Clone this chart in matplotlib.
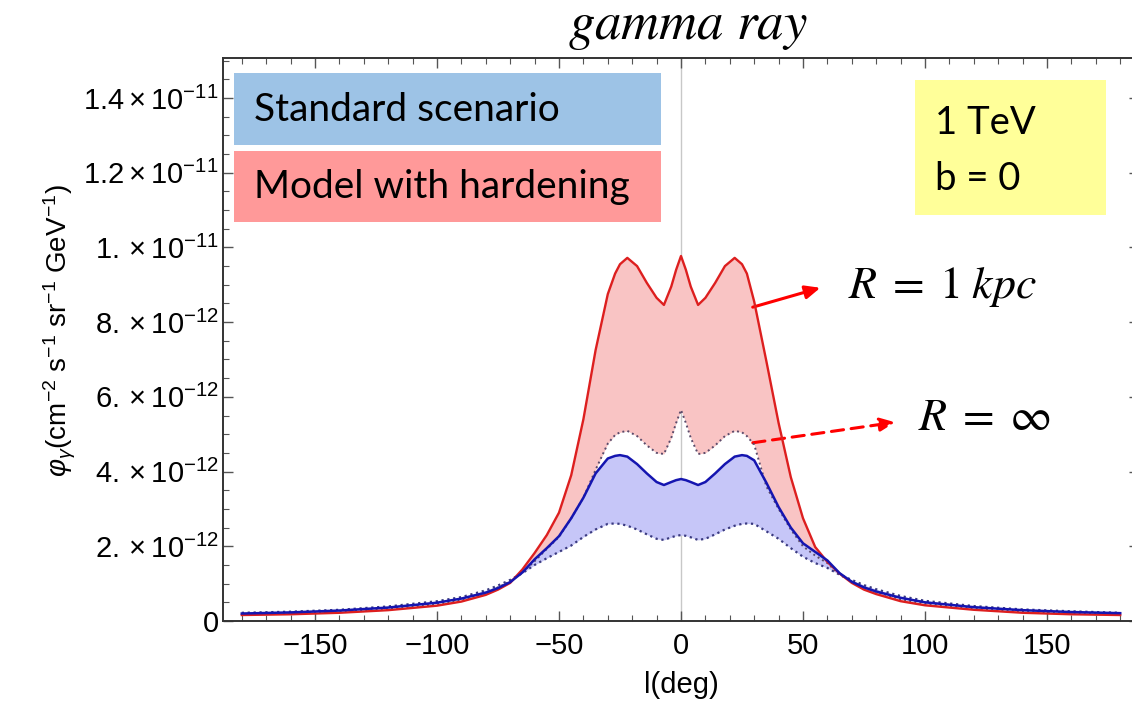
import matplotlib
matplotlib.use("Agg")
import matplotlib.pyplot as plt
from matplotlib.patches import Rectangle
from matplotlib.ticker import MultipleLocator
import numpy as np

# galactic longitude grid (deg)
l_deg = [-180, -160, -140, -120, -100, -90, -80, -75, -70, -65, -60, -55, -50, -45, -40, -35,
         -30, -27, -25, -22, -18, -14, -10, -7, -4, -2, 0, 2, 4, 7, 10, 14, 18, 22, 25, 27, 30, 35,
         40, 45, 50, 55, 60, 65, 70, 75, 80, 90, 100, 120, 140, 160, 180]

# fluxes in units of 1e-12 cm^-2 s^-1 sr^-1 GeV^-1
hard_r1 = [0.16, 0.18, 0.22, 0.29, 0.41, 0.52, 0.70, 0.84, 1.02, 1.38, 1.82, 2.30, 2.90, 3.90, 5.40, 7.25,
           8.75, 9.30, 9.55, 9.72, 9.50, 9.05, 8.65, 8.46, 8.95, 9.40, 9.77, 9.40, 8.95, 8.46, 8.65, 9.05,
           9.50, 9.72, 9.55, 9.30, 8.55, 6.95, 5.30, 3.85, 2.75, 1.98, 1.58, 1.27, 1.02, 0.84, 0.72,
           0.53, 0.42, 0.30, 0.22, 0.18, 0.16]
hard_rinf = [0.17, 0.20, 0.24, 0.32, 0.45, 0.56, 0.75, 0.90, 1.06, 1.30, 1.60, 1.93, 2.25, 2.75, 3.30, 4.05,
             4.75, 4.98, 5.05, 5.09, 4.95, 4.70, 4.50, 4.47, 4.90, 5.30, 5.65, 5.30, 4.90, 4.47, 4.50, 4.70,
             4.95, 5.09, 5.05, 4.95, 4.72, 3.60, 3.00, 2.45, 2.00, 1.75, 1.55, 1.24, 1.05, 0.90, 0.78,
             0.58, 0.46, 0.33, 0.25, 0.20, 0.17]
std_r1 = [0.20, 0.23, 0.28, 0.36, 0.49, 0.60, 0.76, 0.88, 1.04, 1.30, 1.65, 1.95, 2.27, 2.75, 3.30, 3.95,
          4.35, 4.42, 4.44, 4.40, 4.20, 3.95, 3.72, 3.64, 3.72, 3.77, 3.80, 3.77, 3.72, 3.64, 3.72, 3.95,
          4.20, 4.40, 4.44, 4.42, 4.30, 3.70, 3.05, 2.50, 2.08, 1.85, 1.62, 1.28, 1.05, 0.90, 0.79,
          0.62, 0.50, 0.37, 0.29, 0.24, 0.21]
std_rinf = [0.22, 0.25, 0.30, 0.39, 0.53, 0.64, 0.82, 0.95, 1.10, 1.28, 1.50, 1.68, 1.85, 2.02, 2.25, 2.45,
            2.60, 2.61, 2.60, 2.55, 2.45, 2.32, 2.20, 2.17, 2.24, 2.28, 2.30, 2.28, 2.24, 2.17, 2.20, 2.32,
            2.45, 2.55, 2.60, 2.61, 2.60, 2.40, 2.20, 1.95, 1.72, 1.55, 1.42, 1.24, 1.10, 0.96, 0.85,
            0.67, 0.54, 0.40, 0.31, 0.26, 0.22]

ytick_vals = [0, 2, 4, 6, 8, 10, 12, 14]
ytick_labels = ["0", r"$2.\times10^{-12}$", r"$4.\times10^{-12}$", r"$6.\times10^{-12}$",
                r"$8.\times10^{-12}$", r"$1.\times10^{-11}$", r"$1.2\times10^{-11}$", r"$1.4\times10^{-11}$"]

W, H = 1132, 702
plt.rcParams["font.family"] = ["Liberation Sans", "DejaVu Sans"]
plt.rcParams["mathtext.fontset"] = "custom"
plt.rcParams["mathtext.rm"] = "Liberation Sans"
plt.rcParams["mathtext.it"] = "Liberation Sans:italic"

fig = plt.figure(figsize=(W / 100, H / 100), dpi=100)
ax_w = (1139 - 223) / W
ax_h = (621 - 58) / H
ax = fig.add_axes([223 / W, (H - 621) / H, ax_w, ax_h])

x = np.array(l_deg)
s = 1e-12
y_h1 = np.array(hard_r1) * s
y_hi = np.array(hard_rinf) * s
y_s1 = np.array(std_r1) * s
y_si = np.array(std_rinf) * s

ax.axvline(0, color="#c8c8c8", lw=1.0, zorder=1)
ax.fill_between(x, y_hi, y_h1, color="#f9c4c4", lw=0, zorder=2)
ax.fill_between(x, y_si, y_s1, color="#c6c6f8", lw=0, zorder=3)
ax.plot(x, y_hi, color="#5a4a6a", lw=1.4, ls=":", zorder=4)
ax.plot(x, y_si, color="#3a3a80", lw=1.6, ls=":", zorder=4)
ax.plot(x, y_h1, color="#dd1f1f", lw=1.7, zorder=5)
ax.plot(x, y_s1, color="#1515b0", lw=1.8, zorder=6)

ax.set_xlim(-187.7, 187.7)
ax.set_ylim(0, 15.07e-12)
ax.xaxis.set_major_locator(MultipleLocator(50))
ax.xaxis.set_minor_locator(MultipleLocator(10))
ax.set_yticks([v * s for v in ytick_vals])
ax.set_yticklabels(ytick_labels)
ax.yaxis.set_minor_locator(MultipleLocator(0.5e-12))
ax.tick_params(which="both", direction="in", top=True, right=True, color="#555555")
ax.tick_params(which="major", length=7, width=1.0, labelsize=21)
ax.tick_params(axis="y", which="major", pad=3)
ax.tick_params(axis="x", which="major", pad=8)
ax.tick_params(which="minor", length=4, width=0.8)
for sp in ax.spines.values():
    sp.set_color("#333333")
    sp.set_linewidth(1.4)

ax.set_xlabel("l(deg)", fontsize=21, labelpad=8)
ax.set_ylabel(r"$\varphi_\gamma$(cm$^{-2}$ s$^{-1}$ sr$^{-1}$ GeV$^{-1}$)", fontsize=20)
ax.yaxis.set_label_coords(-(223 - 78) / (ax_w * W), 0.516)

# title and curve labels (math style)
fig.text(688 / W, 1 - 27 / H, r"$gamma\ ray$", fontsize=38, ha="center", va="center",
         math_fontfamily="stix")
ax.text(68.4, 8.94e-12, r"$R\;=\;1\;kpc$", fontsize=33, va="center", ha="left", math_fontfamily="stix")
ax.text(97.1, 5.43e-12, r"$R\;=\;\infty$", fontsize=33, va="center", ha="left", math_fontfamily="stix")

ax.annotate("", xy=(58.2, 8.94e-12), xytext=(28.3, 8.38e-12),
            arrowprops=dict(arrowstyle="-|>,head_length=0.9,head_width=0.4", color="#ff0000", lw=2.2))
ax.annotate("", xy=(88.9, 5.33e-12), xytext=(28.3, 4.76e-12),
            arrowprops=dict(arrowstyle="-|>,head_length=0.9,head_width=0.4", color="#ff0000", lw=2.2,
                            ls=(0, (4, 2.5))))

# legend-like boxes
def box(x0, y0, x1, y1, color):
    fig.add_artist(Rectangle((x0 / W, 1 - y1 / H), (x1 - x0) / W, (y1 - y0) / H,
                             transform=fig.transFigure, facecolor=color, edgecolor="none", zorder=10))

box(234, 73, 661, 145, "#9dc3e6")
box(234, 151, 661, 222, "#ff9999")
box(915, 80, 1106, 215, "#ffff99")
fig.text(254 / W, 1 - 110 / H, "Standard scenario", fontsize=28, family="Lato", va="center", zorder=11)
fig.text(254 / W, 1 - 187 / H, "Model with hardening", fontsize=28, family="Lato", va="center", zorder=11)
fig.text(935 / W, 1 - 123 / H, "1 TeV", fontsize=27.5, family="Lato", va="center", zorder=11)
fig.text(935 / W, 1 - 179 / H, "b = 0", fontsize=27.5, family="Lato", va="center", zorder=11)

fig.savefig("out.png", dpi=100)
